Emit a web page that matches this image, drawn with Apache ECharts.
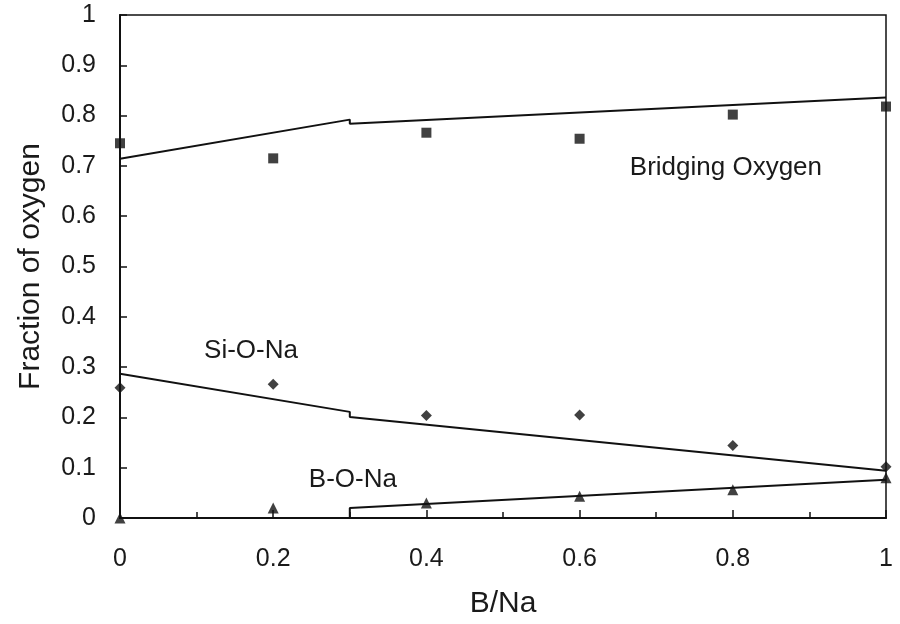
<!DOCTYPE html>
<html>
<head>
<meta charset="utf-8">
<script src="https://cdn.jsdelivr.net/npm/echarts@6/dist/echarts.min.js"></script>
<style>
  html, body { margin: 0; padding: 0; background: #fff; }
  #chart { width: 900px; height: 624px; }
</style>
</head>
<body>
<div id="chart"></div>
<script>
// Measured compositions (B/Na ratio)
const ratios = [0, 0.2, 0.4, 0.6, 0.8, 1.0];
const bridgingMeasured = [0.745, 0.715, 0.766, 0.754, 0.802, 0.818];
const siONaMeasured = [0.259, 0.266, 0.204, 0.205, 0.144, 0.102];
const bONaMeasured = [0.0, 0.02, 0.03, 0.043, 0.056, 0.08];

// Model curves, with the step at B/Na = 0.3
const modelX = [0, 0.3, 0.3, 1.0];
const bridgingModel = [0.714, 0.792, 0.784, 0.836];
const siONaModel = [0.287, 0.211, 0.201, 0.094];
const bONaModel = [0.0, 0.0, 0.02, 0.076];

// Curve names and the (B/Na, fraction) point each is written at
const curveNames = ['Bridging Oxygen', 'Si-O-Na', 'B-O-Na'];
const nameAnchors = [[0.791, 0.697], [0.171, 0.333], [0.304, 0.075]];

const ink = '#111';
const textInk = '#1a1a1a';
const font = 'Liberation Sans, Arial, Helvetica, sans-serif';

function pairs(xs, ys) { return xs.map((x, i) => [x, ys[i]]); }

function modelSeries(ys) {
  return {
    type: 'line', data: pairs(modelX, ys), symbol: 'none',
    lineStyle: { color: ink, width: 2 }, z: 3, silent: true
  };
}
function measuredSeries(ys, symbol, size) {
  return {
    type: 'scatter', data: pairs(ratios, ys), symbol: symbol, symbolSize: size,
    itemStyle: { color: ink }, z: 4, silent: true
  };
}

const chart = echarts.init(document.getElementById('chart'), null, { renderer: 'canvas' });
chart.setOption({
  animation: false,
  backgroundColor: '#fff',
  grid: {
    left: 120, right: 14, top: 15, bottom: 104,
    show: true, borderColor: ink, borderWidth: 1.5, backgroundColor: 'transparent'
  },
  xAxis: {
    type: 'value', min: 0, max: 1, interval: 0.2,
    name: 'B/Na', nameLocation: 'middle', nameGap: 71,
    nameTextStyle: { fontFamily: font, fontSize: 30, color: textInk },
    axisLine: { show: true, lineStyle: { color: ink, width: 2 } },
    axisTick: { show: true, inside: true, length: 8, lineStyle: { color: ink, width: 1.5 } },
    minorTick: { show: true, splitNumber: 2, length: 6, lineStyle: { color: ink, width: 1.5 } },
    splitLine: { show: false },
    axisLabel: { margin: 29, fontFamily: font, fontSize: 25, color: textInk }
  },
  yAxis: {
    type: 'value', min: 0, max: 1, interval: 0.1,
    name: 'Fraction of oxygen', nameLocation: 'middle', nameGap: 74,
    nameTextStyle: { fontFamily: font, fontSize: 30, color: textInk },
    axisLine: { show: true, lineStyle: { color: ink, width: 2 } },
    axisTick: { show: true, inside: true, length: 7, lineStyle: { color: ink, width: 1.5 } },
    splitLine: { show: false },
    axisLabel: {
      margin: 24, fontFamily: font, fontSize: 25, color: textInk,
      formatter: v => String(Math.round(v * 10) / 10)
    }
  },
  series: [
    modelSeries(bridgingModel),
    modelSeries(siONaModel),
    modelSeries(bONaModel),
    measuredSeries(bridgingMeasured, 'rect', 10),
    measuredSeries(siONaMeasured, 'diamond', 11),
    measuredSeries(bONaMeasured, 'triangle', 11),
    {
      // curve names, written at their anchor points
      type: 'scatter', symbol: 'circle', symbolSize: 4, silent: true, z: 5,
      itemStyle: { color: 'rgba(255,255,255,0)' },
      data: nameAnchors.map((p, i) => ({ value: p, name: curveNames[i] })),
      label: {
        show: true, position: 'inside', formatter: p => p.name,
        fontFamily: font, fontSize: 26, color: textInk,
        textBorderWidth: 0, textBorderColor: 'transparent', opacity: 1
      }
    }
  ]
});
</script>
</body>
</html>
